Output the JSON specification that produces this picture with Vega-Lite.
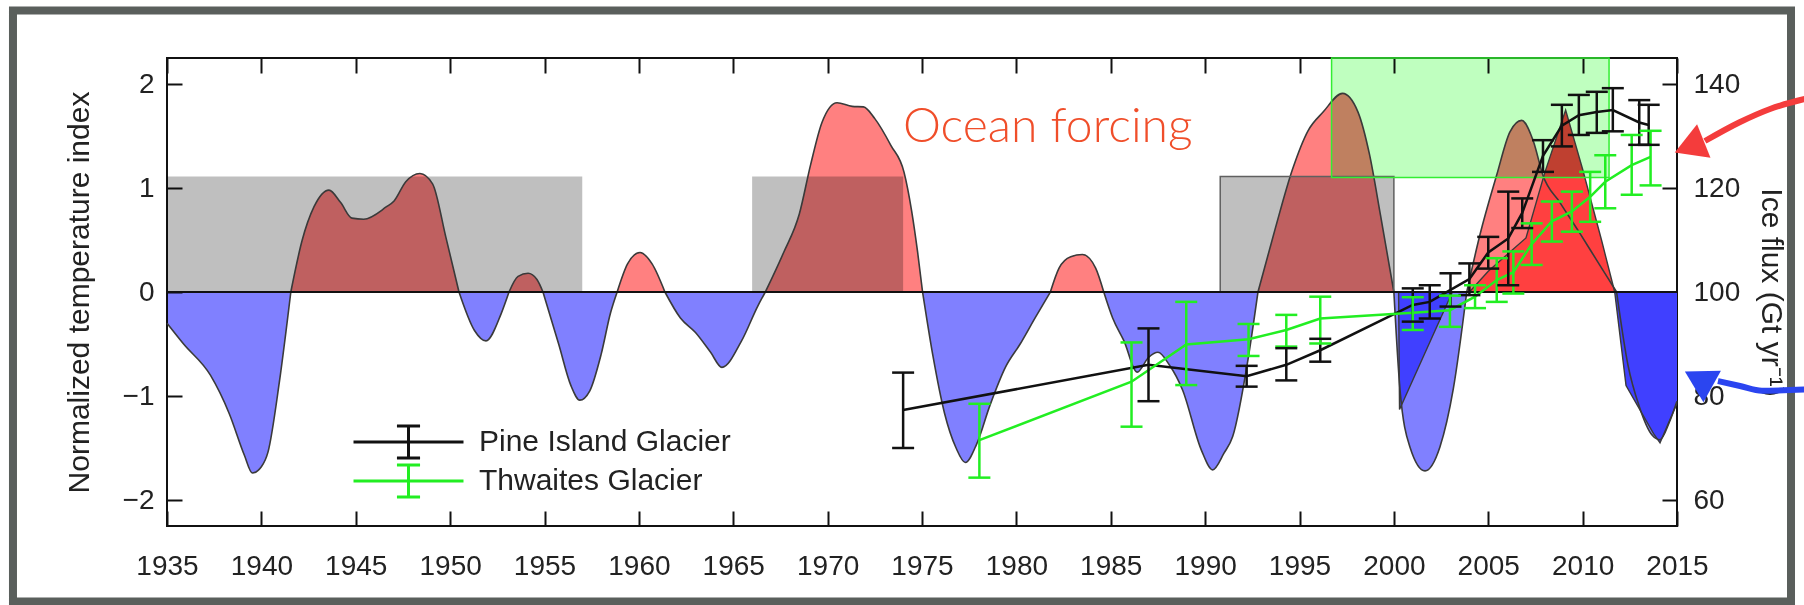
{
  "$schema": "https://vega.github.io/schema/vega-lite/v6.json",
  "width": 1510,
  "height": 468,
  "autosize": {"type": "none"},
  "padding": {"left": 167, "top": 58, "right": 127, "bottom": 79},
  "background": "white",
  "config": {
    "font": "Liberation Sans",
    "view": {"stroke": "#111111", "strokeWidth": 2},
    "axis": {
      "labelFont": "Liberation Sans", "labelFontSize": 28, "labelColor": "#222222",
      "titleFont": "Liberation Sans", "titleFontSize": 30, "titleFontWeight": "normal", "titleColor": "#222222",
      "tickColor": "#111111", "tickWidth": 2, "tickSize": -15, "domain": false, "grid": false
    }
  },
  "datasets": {
    "tempA": [
      {"t": 1935, "v": -0.30, "s": "A1", "sg": "neg"}, {"t": 1935.88, "v": -0.50, "s": "A1", "sg": "neg"}, {"t": 1937.3, "v": -0.80, "s": "A1", "sg": "neg"}, {"t": 1938.3, "v": -1.17, "s": "A1", "sg": "neg"}, {"t": 1939.1, "v": -1.57, "s": "A1", "sg": "neg"}, {"t": 1939.52, "v": -1.74, "s": "A1", "sg": "neg"}, {"t": 1940.0, "v": -1.68, "s": "A1", "sg": "neg"}, {"t": 1940.35, "v": -1.54, "s": "A1", "sg": "neg"}, {"t": 1940.95, "v": -0.87, "s": "A1", "sg": "neg"}, {"t": 1941.56, "v": 0, "s": "A1", "sg": "neg"},
      {"t": 1941.56, "v": 0, "s": "A2", "sg": "pos"}, {"t": 1942.15, "v": 0.49, "s": "A2", "sg": "pos"}, {"t": 1942.79, "v": 0.82, "s": "A2", "sg": "pos"}, {"t": 1943.58, "v": 0.98, "s": "A2", "sg": "pos"}, {"t": 1944.2, "v": 0.86, "s": "A2", "sg": "pos"}, {"t": 1944.8, "v": 0.71, "s": "A2", "sg": "pos"}, {"t": 1945.42, "v": 0.70, "s": "A2", "sg": "pos"}, {"t": 1946.63, "v": 0.82, "s": "A2", "sg": "pos"}, {"t": 1947.03, "v": 0.875, "s": "A2", "sg": "pos"}, {"t": 1947.65, "v": 1.06, "s": "A2", "sg": "pos"}, {"t": 1948.4, "v": 1.14, "s": "A2", "sg": "pos"}, {"t": 1949.07, "v": 1.04, "s": "A2", "sg": "pos"}, {"t": 1949.77, "v": 0.53, "s": "A2", "sg": "pos"}, {"t": 1950.47, "v": 0, "s": "A2", "sg": "pos"},
      {"t": 1950.47, "v": 0, "s": "A3", "sg": "neg"}, {"t": 1951.29, "v": -0.37, "s": "A3", "sg": "neg"}, {"t": 1951.9, "v": -0.47, "s": "A3", "sg": "neg"}, {"t": 1952.7, "v": -0.21, "s": "A3", "sg": "neg"}, {"t": 1953.12, "v": 0, "s": "A3", "sg": "neg"},
      {"t": 1953.12, "v": 0, "s": "A4", "sg": "pos"}, {"t": 1953.6, "v": 0.15, "s": "A4", "sg": "pos"}, {"t": 1954.13, "v": 0.18, "s": "A4", "sg": "pos"}, {"t": 1954.6, "v": 0.12, "s": "A4", "sg": "pos"}, {"t": 1954.92, "v": 0, "s": "A4", "sg": "pos"},
      {"t": 1954.92, "v": 0, "s": "A5", "sg": "neg"}, {"t": 1955.75, "v": -0.5, "s": "A5", "sg": "neg"}, {"t": 1956.4, "v": -0.9, "s": "A5", "sg": "neg"}, {"t": 1956.87, "v": -1.04, "s": "A5", "sg": "neg"}, {"t": 1957.4, "v": -0.95, "s": "A5", "sg": "neg"}, {"t": 1958.0, "v": -0.6, "s": "A5", "sg": "neg"}, {"t": 1958.5, "v": -0.2, "s": "A5", "sg": "neg"}, {"t": 1958.85, "v": 0, "s": "A5", "sg": "neg"},
      {"t": 1958.85, "v": 0, "s": "A6", "sg": "pos"}, {"t": 1959.4, "v": 0.27, "s": "A6", "sg": "pos"}, {"t": 1960.06, "v": 0.38, "s": "A6", "sg": "pos"}, {"t": 1960.7, "v": 0.27, "s": "A6", "sg": "pos"}, {"t": 1961.38, "v": 0, "s": "A6", "sg": "pos"},
      {"t": 1961.38, "v": 0, "s": "A7", "sg": "neg"}, {"t": 1962.2, "v": -0.25, "s": "A7", "sg": "neg"}, {"t": 1963.0, "v": -0.39, "s": "A7", "sg": "neg"}, {"t": 1963.8, "v": -0.58, "s": "A7", "sg": "neg"}, {"t": 1964.4, "v": -0.725, "s": "A7", "sg": "neg"}, {"t": 1965.44, "v": -0.47, "s": "A7", "sg": "neg"}, {"t": 1966.3, "v": -0.135, "s": "A7", "sg": "neg"}, {"t": 1966.7, "v": 0, "s": "A7", "sg": "neg"},
      {"t": 1966.7, "v": 0, "s": "A8", "sg": "pos"}, {"t": 1967.67, "v": 0.38, "s": "A8", "sg": "pos"}, {"t": 1968.5, "v": 0.75, "s": "A8", "sg": "pos"}, {"t": 1969.1, "v": 1.225, "s": "A8", "sg": "pos"}, {"t": 1969.7, "v": 1.63, "s": "A8", "sg": "pos"}, {"t": 1970.5, "v": 1.82, "s": "A8", "sg": "pos"}, {"t": 1971.3, "v": 1.785, "s": "A8", "sg": "pos"}, {"t": 1971.9, "v": 1.78, "s": "A8", "sg": "pos"}, {"t": 1972.5, "v": 1.667, "s": "A8", "sg": "pos"}, {"t": 1973.35, "v": 1.41, "s": "A8", "sg": "pos"}, {"t": 1974.05, "v": 1.15, "s": "A8", "sg": "pos"}, {"t": 1974.45, "v": 0.78, "s": "A8", "sg": "pos"}, {"t": 1974.77, "v": 0.38, "s": "A8", "sg": "pos"}, {"t": 1975.03, "v": 0, "s": "A8", "sg": "pos"},
      {"t": 1975.03, "v": 0, "s": "A9", "sg": "neg"}, {"t": 1975.58, "v": -0.615, "s": "A9", "sg": "neg"}, {"t": 1976.19, "v": -1.163, "s": "A9", "sg": "neg"}, {"t": 1976.8, "v": -1.498, "s": "A9", "sg": "neg"}, {"t": 1977.3, "v": -1.64, "s": "A9", "sg": "neg"}, {"t": 1977.9, "v": -1.46, "s": "A9", "sg": "neg"}, {"t": 1978.6, "v": -1.09, "s": "A9", "sg": "neg"}, {"t": 1979.43, "v": -0.72, "s": "A9", "sg": "neg"}, {"t": 1980.2, "v": -0.5, "s": "A9", "sg": "neg"}, {"t": 1981.0, "v": -0.246, "s": "A9", "sg": "neg"}, {"t": 1981.8, "v": 0, "s": "A9", "sg": "neg"},
      {"t": 1981.8, "v": 0, "s": "A10", "sg": "pos"}, {"t": 1982.26, "v": 0.23, "s": "A10", "sg": "pos"}, {"t": 1982.88, "v": 0.34, "s": "A10", "sg": "pos"}, {"t": 1983.5, "v": 0.36, "s": "A10", "sg": "pos"}, {"t": 1984.2, "v": 0.23, "s": "A10", "sg": "pos"}, {"t": 1984.63, "v": 0, "s": "A10", "sg": "pos"},
      {"t": 1984.63, "v": 0, "s": "A11", "sg": "neg"}, {"t": 1985.1, "v": -0.25, "s": "A11", "sg": "neg"}, {"t": 1985.7, "v": -0.47, "s": "A11", "sg": "neg"}, {"t": 1986.4, "v": -0.77, "s": "A11", "sg": "neg"}, {"t": 1987.0, "v": -0.63, "s": "A11", "sg": "neg"}, {"t": 1987.5, "v": -0.58, "s": "A11", "sg": "neg"}, {"t": 1988.1, "v": -0.7, "s": "A11", "sg": "neg"}, {"t": 1988.8, "v": -0.94, "s": "A11", "sg": "neg"}, {"t": 1989.8, "v": -1.52, "s": "A11", "sg": "neg"}, {"t": 1990.4, "v": -1.71, "s": "A11", "sg": "neg"}, {"t": 1991.0, "v": -1.55, "s": "A11", "sg": "neg"}, {"t": 1991.46, "v": -1.39, "s": "A11", "sg": "neg"}, {"t": 1992.27, "v": -0.65, "s": "A11", "sg": "neg"}, {"t": 1992.8, "v": 0, "s": "A11", "sg": "neg"},
      {"t": 1992.8, "v": 0, "s": "A12", "sg": "pos"}, {"t": 1993.7, "v": 0.6, "s": "A12", "sg": "pos"}, {"t": 1994.63, "v": 1.18, "s": "A12", "sg": "pos"}, {"t": 1995.45, "v": 1.55, "s": "A12", "sg": "pos"}, {"t": 1996.25, "v": 1.73, "s": "A12", "sg": "pos"}, {"t": 1997.28, "v": 1.91, "s": "A12", "sg": "pos"}, {"t": 1998.1, "v": 1.73, "s": "A12", "sg": "pos"}, {"t": 1998.7, "v": 1.33, "s": "A12", "sg": "pos"}, {"t": 1999.3, "v": 0.73, "s": "A12", "sg": "pos"}, {"t": 2000.0, "v": 0, "s": "A12", "sg": "pos"},
      {"t": 2000.0, "v": 0, "s": "A13", "sg": "neg"}, {"t": 2000.32, "v": -0.93, "s": "A13", "sg": "neg"}, {"t": 2000.85, "v": -1.49, "s": "A13", "sg": "neg"}, {"t": 2001.65, "v": -1.72, "s": "A13", "sg": "neg"}, {"t": 2002.44, "v": -1.49, "s": "A13", "sg": "neg"}, {"t": 2003.15, "v": -0.93, "s": "A13", "sg": "neg"}, {"t": 2003.86, "v": 0, "s": "A13", "sg": "neg"},
      {"t": 2003.86, "v": 0, "s": "A14", "sg": "pos"}, {"t": 2004.56, "v": 0.55, "s": "A14", "sg": "pos"}, {"t": 2005.44, "v": 1.12, "s": "A14", "sg": "pos"}, {"t": 2006.15, "v": 1.54, "s": "A14", "sg": "pos"}, {"t": 2006.77, "v": 1.65, "s": "A14", "sg": "pos"}, {"t": 2007.39, "v": 1.45, "s": "A14", "sg": "pos"}, {"t": 2007.9, "v": 1.12, "s": "A14", "sg": "pos"}, {"t": 2008.8, "v": 0.86, "s": "A14", "sg": "pos"}, {"t": 2009.8, "v": 0.58, "s": "A14", "sg": "pos"}, {"t": 2010.8, "v": 0.29, "s": "A14", "sg": "pos"}, {"t": 2011.8, "v": 0, "s": "A14", "sg": "pos"},
      {"t": 2011.8, "v": 0, "s": "A15", "sg": "neg"}, {"t": 2012.4, "v": -0.7, "s": "A15", "sg": "neg"}, {"t": 2013.0, "v": -1.1, "s": "A15", "sg": "neg"}, {"t": 2013.7, "v": -1.38, "s": "A15", "sg": "neg"}, {"t": 2014.1, "v": -1.42, "s": "A15", "sg": "neg"}, {"t": 2014.6, "v": -1.25, "s": "A15", "sg": "neg"}, {"t": 2015.0, "v": -1.05, "s": "A15", "sg": "neg"}
    ],
    "tempB": [
      {"t": 2000.25, "v": 0, "s": "B1", "sg": "neg"}, {"t": 2000.3, "v": -1.13, "s": "B1", "sg": "neg"}, {"t": 2003.1, "v": 0, "s": "B1", "sg": "neg"},
      {"t": 2004.0, "v": 0, "s": "B2", "sg": "pos"}, {"t": 2005.0, "v": 0.2, "s": "B2", "sg": "pos"}, {"t": 2006.0, "v": 0.36, "s": "B2", "sg": "pos"}, {"t": 2007.0, "v": 0.52, "s": "B2", "sg": "pos"}, {"t": 2008.0, "v": 1.15, "s": "B2", "sg": "pos"}, {"t": 2009.1, "v": 1.75, "s": "B2", "sg": "pos"}, {"t": 2010.0, "v": 1.18, "s": "B2", "sg": "pos"}, {"t": 2011.0, "v": 0.5, "s": "B2", "sg": "pos"}, {"t": 2011.7, "v": 0, "s": "B2", "sg": "pos"},
      {"t": 2011.7, "v": 0, "s": "B3", "sg": "neg"}, {"t": 2012.3, "v": -0.9, "s": "B3", "sg": "neg"}, {"t": 2013.75, "v": -1.36, "s": "B3", "sg": "neg"}, {"t": 2014.1, "v": -1.45, "s": "B3", "sg": "neg"}, {"t": 2015.0, "v": -1.07, "s": "B3", "sg": "neg"}
    ],
    "gray": [
      {"x0": 1935, "x1": 1957, "y0": 0, "y1": 1.11},
      {"x0": 1966, "x1": 1974, "y0": 0, "y1": 1.11},
      {"x0": 1990.8, "x1": 2000, "y0": 0, "y1": 1.11}
    ],
    "glac": [
      {"g": "Pine Island Glacier", "year": 1974.0, "f": 77.3, "lo": 70.0, "hi": 84.5},
      {"g": "Pine Island Glacier", "year": 1987.0, "f": 86.0, "lo": 79.0, "hi": 93.0},
      {"g": "Pine Island Glacier", "year": 1992.2, "f": 83.8, "lo": 81.8, "hi": 85.8},
      {"g": "Pine Island Glacier", "year": 1994.3, "f": 86.0, "lo": 83.0, "hi": 89.2},
      {"g": "Pine Island Glacier", "year": 1996.1, "f": 88.8, "lo": 86.6, "hi": 91.0},
      {"g": "Pine Island Glacier", "year": 2001.0, "f": 97.5, "lo": 94.3, "hi": 100.7},
      {"g": "Pine Island Glacier", "year": 2001.9, "f": 98.1, "lo": 94.9, "hi": 101.3},
      {"g": "Pine Island Glacier", "year": 2003.0, "f": 100.4, "lo": 97.2, "hi": 103.6},
      {"g": "Pine Island Glacier", "year": 2004.0, "f": 102.5, "lo": 99.4, "hi": 105.5},
      {"g": "Pine Island Glacier", "year": 2005.0, "f": 107.6, "lo": 104.5, "hi": 110.6},
      {"g": "Pine Island Glacier", "year": 2006.06, "f": 110.3, "lo": 101.3, "hi": 119.3},
      {"g": "Pine Island Glacier", "year": 2006.8, "f": 115.2, "lo": 112.3, "hi": 118.0},
      {"g": "Pine Island Glacier", "year": 2007.9, "f": 126.2, "lo": 123.1, "hi": 129.2},
      {"g": "Pine Island Glacier", "year": 2008.9, "f": 132.0, "lo": 128.0, "hi": 136.0},
      {"g": "Pine Island Glacier", "year": 2009.8, "f": 134.0, "lo": 130.2, "hi": 137.9},
      {"g": "Pine Island Glacier", "year": 2010.75, "f": 134.6, "lo": 130.6, "hi": 138.5},
      {"g": "Pine Island Glacier", "year": 2011.6, "f": 135.0, "lo": 130.9, "hi": 139.2},
      {"g": "Pine Island Glacier", "year": 2013.0, "f": 132.6, "lo": 128.3, "hi": 136.9},
      {"g": "Pine Island Glacier", "year": 2013.5, "f": 132.1, "lo": 128.3, "hi": 136.0},
      {"g": "Thwaites Glacier", "year": 1978.04, "f": 71.5, "lo": 64.3, "hi": 78.5},
      {"g": "Thwaites Glacier", "year": 1986.1, "f": 82.75, "lo": 74.1, "hi": 90.3},
      {"g": "Thwaites Glacier", "year": 1989.0, "f": 89.9, "lo": 82.1, "hi": 98.1},
      {"g": "Thwaites Glacier", "year": 1992.3, "f": 90.9, "lo": 87.7, "hi": 93.85},
      {"g": "Thwaites Glacier", "year": 1994.3, "f": 92.7, "lo": 89.5, "hi": 95.6},
      {"g": "Thwaites Glacier", "year": 1996.1, "f": 94.9, "lo": 90.1, "hi": 99.1},
      {"g": "Thwaites Glacier", "year": 2001.0, "f": 96.0, "lo": 92.7, "hi": 99.0},
      {"g": "Thwaites Glacier", "year": 2002.97, "f": 96.5, "lo": 93.3, "hi": 99.3},
      {"g": "Thwaites Glacier", "year": 2004.3, "f": 99.1, "lo": 96.9, "hi": 101.3},
      {"g": "Thwaites Glacier", "year": 2005.45, "f": 102.3, "lo": 98.1, "hi": 106.5},
      {"g": "Thwaites Glacier", "year": 2006.33, "f": 103.8, "lo": 99.7, "hi": 107.8},
      {"g": "Thwaites Glacier", "year": 2007.3, "f": 109.2, "lo": 105.2, "hi": 113.2},
      {"g": "Thwaites Glacier", "year": 2008.37, "f": 113.6, "lo": 109.7, "hi": 117.4},
      {"g": "Thwaites Glacier", "year": 2009.43, "f": 115.5, "lo": 111.6, "hi": 119.3},
      {"g": "Thwaites Glacier", "year": 2010.4, "f": 118.3, "lo": 113.5, "hi": 123.1},
      {"g": "Thwaites Glacier", "year": 2011.2, "f": 121.2, "lo": 116.1, "hi": 126.3},
      {"g": "Thwaites Glacier", "year": 2012.6, "f": 124.4, "lo": 118.7, "hi": 130.2},
      {"g": "Thwaites Glacier", "year": 2013.6, "f": 126.0, "lo": 120.5, "hi": 131.0}
    ]
  },
  "layer": [
    {
      "layer": [
        {
          "data": {"name": "tempA"},
          "mark": {"type": "area", "interpolate": "monotone", "blend": "multiply"},
          "encoding": {
            "x": {"field": "t", "type": "quantitative", "scale": {"domain": [1935, 2015], "nice": false, "zero": false},
                  "axis": {"orient": "bottom", "title": null, "values": [1935, 1940, 1945, 1950, 1955, 1960, 1965, 1970, 1975, 1980, 1985, 1990, 1995, 2000, 2005, 2010, 2015], "format": "d", "labelPadding": 41, "labelFlush": false, "labelOverlap": false}},
            "y": {"field": "v", "type": "quantitative", "scale": {"domain": [-2.25, 2.25], "nice": false, "zero": false},
                  "axis": {"orient": "left", "title": "Normalized temperature index", "values": [-2, -1, 0, 1, 2], "format": "d", "labelPadding": 28, "titlePadding": 28}},
            "y2": {"datum": 0},
            "fill": {"field": "sg", "type": "nominal", "scale": {"domain": ["pos", "neg"], "range": ["#ff8080", "#8080ff"]}, "legend": null},
            "detail": {"field": "s"}
          }
        },
        {
          "data": {"name": "tempB"},
          "mark": {"type": "area", "interpolate": "linear"},
          "encoding": {
            "x": {"field": "t", "type": "quantitative", "scale": {"domain": [1935, 2015]}},
            "y": {"field": "v", "type": "quantitative"},
            "y2": {"datum": 0},
            "fill": {"field": "sg", "type": "nominal", "scale": {"domain": ["pos", "neg"], "range": ["#ff8080", "#8080ff"]}, "legend": null},
            "detail": {"field": "s"}
          }
        },
        {
          "data": {"name": "tempB"},
          "mark": {"type": "area", "interpolate": "linear", "blend": "multiply"},
          "encoding": {
            "x": {"field": "t", "type": "quantitative", "scale": {"domain": [1935, 2015]}},
            "y": {"field": "v", "type": "quantitative"},
            "y2": {"datum": 0},
            "fill": {"field": "sg", "type": "nominal", "scale": {"domain": ["pos", "neg"], "range": ["#ff8080", "#8080ff"]}, "legend": null},
            "detail": {"field": "s"}
          }
        },
        {
          "data": {"name": "gray"},
          "mark": {"type": "rect", "fill": "#bfbfbf", "blend": "multiply"},
          "encoding": {
            "x": {"field": "x0", "type": "quantitative", "scale": {"domain": [1935, 2015]}},
            "x2": {"field": "x1"},
            "y": {"field": "y0", "type": "quantitative"},
            "y2": {"field": "y1"}
          }
        },
        {
          "data": {"values": [{"x0": 1996.7, "x1": 2011.4, "y0": 1.1, "y1": 2.25}]},
          "mark": {"type": "rect", "fill": "#bfffbf", "blend": "multiply"},
          "encoding": {
            "x": {"field": "x0", "type": "quantitative", "scale": {"domain": [1935, 2015]}},
            "x2": {"field": "x1"},
            "y": {"field": "y0", "type": "quantitative"},
            "y2": {"field": "y1"}
          }
        },
        {
          "data": {"name": "tempA"},
          "mark": {"type": "line", "interpolate": "monotone", "stroke": "#3a3a3a", "strokeWidth": 1.6},
          "encoding": {
            "x": {"field": "t", "type": "quantitative", "scale": {"domain": [1935, 2015]}},
            "y": {"field": "v", "type": "quantitative"},
            "detail": {"field": "s"}
          }
        },
        {
          "data": {"name": "tempB"},
          "mark": {"type": "line", "interpolate": "linear", "stroke": "#3a3a3a", "strokeWidth": 1.4},
          "encoding": {
            "x": {"field": "t", "type": "quantitative", "scale": {"domain": [1935, 2015]}},
            "y": {"field": "v", "type": "quantitative"},
            "detail": {"field": "s"}
          }
        },
        {
          "data": {"values": [{"x0": 1990.8, "x1": 2000, "y0": 0, "y1": 1.11}]},
          "mark": {"type": "rect", "fillOpacity": 0, "stroke": "#606060", "strokeWidth": 1.5},
          "encoding": {
            "x": {"field": "x0", "type": "quantitative", "scale": {"domain": [1935, 2015]}},
            "x2": {"field": "x1"},
            "y": {"field": "y0", "type": "quantitative"},
            "y2": {"field": "y1"}
          }
        },
        {
          "data": {"values": [{"x0": 1996.7, "x1": 2011.4, "y0": 1.1, "y1": 2.25}]},
          "mark": {"type": "rect", "fillOpacity": 0, "stroke": "#33ee33", "strokeWidth": 1.5},
          "encoding": {
            "x": {"field": "x0", "type": "quantitative", "scale": {"domain": [1935, 2015]}},
            "x2": {"field": "x1"},
            "y": {"field": "y0", "type": "quantitative"},
            "y2": {"field": "y1"}
          }
        },
        {
          "data": {"values": [{}]},
          "mark": {"type": "rule", "stroke": "#111111", "strokeWidth": 2},
          "encoding": {"y": {"datum": 0}}
        },
        {
          "data": {"values": [{}]},
          "mark": {"type": "rect", "fillOpacity": 0, "stroke": "#5a5f5c", "strokeWidth": 8},
          "encoding": {
            "x": {"datum": 1926.84, "scale": {"domain": [1935, 2015]}},
            "x2": {"datum": 2021.04},
            "y": {"datum": 2.707},
            "y2": {"datum": -2.976}
          }
        },
        {
          "data": {"values": [{}]},
          "mark": {"type": "text", "text": "Ocean forcing", "font": "Lato", "fontWeight": 300, "fontSize": 48, "color": "#f04e2a", "align": "left", "baseline": "alphabetic"},
          "encoding": {
            "x": {"datum": 1973.99, "scale": {"domain": [1935, 2015]}},
            "y": {"datum": 1.442}
          }
        },
        {
          "data": {"values": [{"t": 2022.1, "v": 1.87}, {"t": 2019.93, "v": 1.76}, {"t": 2018.29, "v": 1.63}, {"t": 2016.48, "v": 1.452}]},
          "mark": {"type": "line", "interpolate": "monotone", "stroke": "#f43c3c", "strokeWidth": 6},
          "encoding": {
            "x": {"field": "t", "type": "quantitative", "scale": {"domain": [1935, 2015]}},
            "y": {"field": "v", "type": "quantitative"}
          }
        },
        {
          "data": {"values": [{}]},
          "mark": {"type": "point", "shape": "triangle-left", "size": 1300, "angle": -21.8, "filled": true, "fill": "#f43c3c", "opacity": 1, "strokeWidth": 0},
          "encoding": {
            "x": {"datum": 2015.65, "scale": {"domain": [1935, 2015]}},
            "y": {"datum": 1.397}
          }
        },
        {
          "data": {"values": [{"t": 2022.1, "v": -0.935}, {"t": 2019.5, "v": -0.95}, {"t": 2018.34, "v": -0.904}, {"t": 2017.17, "v": -0.856}]},
          "mark": {"type": "line", "interpolate": "monotone", "stroke": "#2b45f0", "strokeWidth": 6},
          "encoding": {
            "x": {"field": "t", "type": "quantitative", "scale": {"domain": [1935, 2015]}},
            "y": {"field": "v", "type": "quantitative"}
          }
        },
        {
          "data": {"values": [{}]},
          "mark": {"type": "point", "shape": "triangle-left", "size": 1300, "angle": 29, "filled": true, "fill": "#2b45f0", "opacity": 1, "strokeWidth": 0},
          "encoding": {
            "x": {"datum": 2016.14, "scale": {"domain": [1935, 2015]}},
            "y": {"datum": -0.836}
          }
        }
      ]
    },
    {
      "data": {"name": "glac"},
      "layer": [
        {
          "mark": {"type": "line", "strokeWidth": 2.5},
          "encoding": {
            "x": {"field": "year", "type": "quantitative", "scale": {"domain": [1935, 2015], "nice": false, "zero": false},
                  "axis": {"orient": "top", "labels": false, "title": null, "values": [1935, 1940, 1945, 1950, 1955, 1960, 1965, 1970, 1975, 1980, 1985, 1990, 1995, 2000, 2005, 2010, 2015]}},
            "y": {"field": "f", "type": "quantitative", "scale": {"domain": [55, 145], "nice": false, "zero": false},
                  "axis": {"orient": "right", "title": "Ice flux (Gt yr⁻¹)", "titleAngle": 90, "values": [60, 80, 100, 120, 140], "labelPadding": 31, "titlePadding": 16}},
            "color": {"field": "g", "type": "nominal", "scale": {"domain": ["Pine Island Glacier", "Thwaites Glacier"], "range": ["#111111", "#22ee22"]},
                      "legend": {"orient": "none", "legendX": 185, "legendY": 366, "padding": 0, "title": null, "symbolType": "M-1,0L1,0M0,-0.29L0,0.29M-0.21,-0.29L0.21,-0.29M-0.21,0.29L0.21,0.29", "symbolSize": 12100, "symbolStrokeWidth": 3, "symbolOpacity": 1, "clipHeight": 36, "labelFont": "Liberation Sans", "labelFontSize": 30, "labelColor": "#222222", "labelOffset": 14, "labelLimit": 0, "rowPadding": 3}}
          }
        },
        {
          "mark": {"type": "rule", "strokeWidth": 2.5, "opacity": 1},
          "encoding": {
            "x": {"field": "year", "type": "quantitative", "scale": {"domain": [1935, 2015]}},
            "y": {"field": "lo", "type": "quantitative"},
            "y2": {"field": "hi"},
            "color": {"field": "g", "type": "nominal"}
          }
        },
        {
          "mark": {"type": "tick", "orient": "horizontal", "size": 22, "thickness": 2.5, "opacity": 1},
          "encoding": {
            "x": {"field": "year", "type": "quantitative", "scale": {"domain": [1935, 2015]}},
            "y": {"field": "lo", "type": "quantitative"},
            "color": {"field": "g", "type": "nominal"}
          }
        },
        {
          "mark": {"type": "tick", "orient": "horizontal", "size": 22, "thickness": 2.5, "opacity": 1},
          "encoding": {
            "x": {"field": "year", "type": "quantitative", "scale": {"domain": [1935, 2015]}},
            "y": {"field": "hi", "type": "quantitative"},
            "color": {"field": "g", "type": "nominal"}
          }
        }
      ]
    }
  ],
  "resolve": {"scale": {"y": "independent"}, "axis": {"x": "independent"}}
}
